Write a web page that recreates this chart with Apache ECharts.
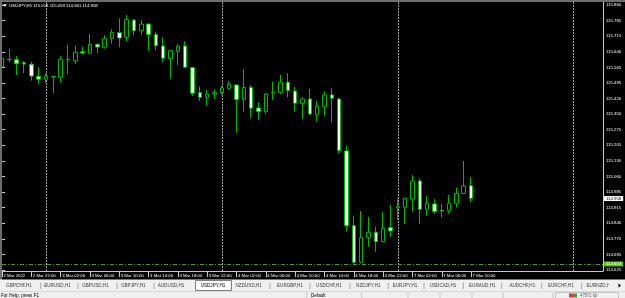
<!DOCTYPE html>
<html><head><meta charset="utf-8">
<script src="https://cdn.jsdelivr.net/npm/echarts@6/dist/echarts.min.js"></script>
<style>html,body{margin:0;padding:0;background:#000;overflow:hidden}#c{width:625px;height:298px}</style>
</head><body><div id="c"></div>
<script>
// ---------- data ----------
const symbol = 'USDJPY,H1';
const barTimes = [
 '2 Mar 18:00','2 Mar 19:00','2 Mar 20:00','2 Mar 21:00','2 Mar 22:00','2 Mar 23:00',
 '3 Mar 00:00','3 Mar 01:00','3 Mar 02:00','3 Mar 03:00','3 Mar 04:00','3 Mar 05:00','3 Mar 06:00','3 Mar 07:00',
 '3 Mar 08:00','3 Mar 09:00','3 Mar 10:00','3 Mar 11:00','3 Mar 12:00','3 Mar 13:00','3 Mar 14:00','3 Mar 15:00',
 '3 Mar 16:00','3 Mar 17:00','3 Mar 18:00','3 Mar 19:00','3 Mar 20:00','3 Mar 21:00','3 Mar 22:00','3 Mar 23:00',
 '4 Mar 00:00','4 Mar 01:00','4 Mar 02:00','4 Mar 03:00','4 Mar 04:00','4 Mar 05:00','4 Mar 06:00','4 Mar 07:00',
 '4 Mar 08:00','4 Mar 09:00','4 Mar 10:00','4 Mar 11:00','4 Mar 12:00','4 Mar 13:00','4 Mar 14:00','4 Mar 15:00',
 '4 Mar 16:00','4 Mar 17:00','4 Mar 18:00','4 Mar 19:00','4 Mar 20:00','4 Mar 21:00','4 Mar 22:00','4 Mar 23:00',
 '7 Mar 00:00','7 Mar 01:00','7 Mar 02:00','7 Mar 03:00','7 Mar 04:00','7 Mar 05:00','7 Mar 06:00','7 Mar 07:00',
 '7 Mar 08:00','7 Mar 09:00','7 Mar 10:00'
];
const futureTimes = [
 '7 Mar 11:00','7 Mar 12:00','7 Mar 13:00','7 Mar 14:00','7 Mar 15:00','7 Mar 16:00','7 Mar 17:00',
 '7 Mar 18:00','7 Mar 19:00','7 Mar 20:00','7 Mar 21:00','7 Mar 22:00','7 Mar 23:00',
 '8 Mar 00:00','8 Mar 01:00','8 Mar 02:00','8 Mar 03:00','8 Mar 04:00'
];
const firstTimeLabel = '2 Mar 2022';
const opens = [115.572,115.605,115.605,115.591,115.584,115.528,115.514,115.524,115.523,115.604,
 115.600,115.642,115.635,115.677,115.663,115.705,115.731,115.709,115.790,115.740,
 115.771,115.723,115.669,115.610,115.644,115.669,115.568,115.451,115.430,115.445,
 115.451,115.472,115.487,115.419,115.476,115.380,115.363,115.451,115.453,115.500,
 115.459,115.402,115.422,115.351,115.386,115.441,115.422,115.180,114.831,114.661,
 114.777,114.801,114.757,114.823,114.914,114.917,114.956,115.040,114.908,114.933,
 114.903,114.901,114.936,114.982,115.018];
const closes = [115.612,115.607,115.586,115.585,115.529,115.514,115.528,115.527,115.607,115.607,
 115.640,115.636,115.677,115.664,115.703,115.733,115.706,115.793,115.740,115.771,
 115.723,115.670,115.612,115.647,115.668,115.570,115.449,115.430,115.444,115.451,
 115.473,115.490,115.419,115.476,115.379,115.363,115.445,115.453,115.500,115.461,
 115.402,115.422,115.352,115.388,115.441,115.425,115.181,114.831,114.661,114.777,
 114.801,114.757,114.819,114.807,114.921,114.959,115.040,114.908,114.936,114.897,
 114.900,114.936,114.982,115.017,114.958];
const lows = [115.534,115.594,115.534,115.542,115.507,115.492,115.495,115.449,115.498,115.538,
 115.585,115.630,115.633,115.635,115.656,115.680,115.663,115.691,115.719,115.722,
 115.647,115.650,115.593,115.517,115.580,115.565,115.437,115.413,115.389,115.422,
 115.441,115.464,115.265,115.363,115.332,115.324,115.352,115.417,115.444,115.430,
 115.363,115.329,115.347,115.316,115.344,115.313,115.169,114.804,114.656,114.656,
 114.734,114.710,114.753,114.780,114.858,114.838,114.897,114.839,114.877,114.886,
 114.869,114.889,114.917,114.980,114.941];
const highs = [115.694,115.655,115.622,115.599,115.596,115.570,115.542,115.530,115.622,115.674,
 115.670,115.666,115.725,115.682,115.719,115.747,115.798,115.813,115.793,115.790,
 115.775,115.736,115.710,115.650,115.678,115.691,115.572,115.479,115.464,115.467,
 115.483,115.507,115.490,115.562,115.487,115.407,115.450,115.503,115.534,115.542,
 115.479,115.430,115.469,115.414,115.456,115.472,115.428,115.203,114.878,114.900,
 114.873,114.827,114.895,114.928,114.958,114.961,115.068,115.052,114.970,114.955,
 114.933,114.975,115.009,115.133,115.059];
const priceLabels = ['115.860','115.785','115.715','115.640','115.565','115.495','115.420','115.350','115.275',
 '115.205','115.130','115.060','114.985','114.915','114.840','114.770','114.695','114.625'];
const levelLine = 114.653;
const tabNames = ['GBPCHF,H1','EURUSD,H1','GBPUSD,H1','GBPJPY,H1','AUDUSD,H1','USDJPY,H1','NZDUSD,H1','EURGBP,H1',
 'USDCHF,H1','NZDJPY,H1','EURJPY,H1','USDCAD,H1','EURAUD,H1','AUDCHF,H1','EURCHF,H1','EURNZD,H1'];
const activeTab = 'USDJPY,H1';

// ---------- layout ----------
const tabCenters = [19,57.5,95.5,133.3,171,213,248.7,290,329,368.3,405,443,482.3,522.3,560.8,600];
const tabSeps = [40.7,78,117,154,270,310,350,388.3,424,463.3,501.7,541.7,581.7];
const statusSeps = [306.7,361.7,408,440,472,503,553];
const FONT = '"Liberation Sans",Arial,sans-serif';
const UIFONT = '"Liberation Sans",Arial,sans-serif';
const FS = 4.3;
const TICK = 0.0726394;

const n = barTimes.length;
const cats = barTimes.concat(futureTimes);
const candles = barTimes.map((t, i) => [opens[i], closes[i], lows[i], highs[i]]);
const lastO = opens[n-1], lastC = closes[n-1], lastL = lows[n-1], lastH = highs[n-1];
const showTime = (i) => i < n && i % 4 === 0;
const axisGray = '#c8c8c8';

const chart = echarts.init(document.getElementById('c'), null, {renderer: 'canvas', width: 625, height: 298});

const graphics = [
  {type:'rect', shape:{x:0,y:0,width:625,height:2}, style:{fill:'#6e6e6e'}, z:100, silent:true},
  {type:'rect', shape:{x:0,y:0,width:2,height:280}, style:{fill:'#6e6e6e'}, z:100, silent:true},
  {type:'polygon', shape:{points:[[3,4.2],[7,4.2],[5,6.8]]}, style:{fill:'#ffffff'}, z:100, silent:true},
  {type:'text', x:9, y:5.6, style:{text: symbol + ' ' + lastO.toFixed(3) + ' ' + lastH.toFixed(3) + ' ' + lastL.toFixed(3) + ' ' + lastC.toFixed(3),
     fill:'#ffffff', font: FS + 'px ' + FONT, verticalAlign:'middle'}, z:100, silent:true},
  // tab bar
  {type:'rect', shape:{x:0,y:279.5,width:625,height:19}, style:{fill:'#f0f0f0'}, z:100, silent:true},
  {type:'line', shape:{x1:0,y1:291.5,x2:625,y2:291.5}, style:{stroke:'#d8d8d8', lineWidth:1}, z:101, silent:true},
];
const activeIdx = tabNames.indexOf(activeTab);
graphics.push({type:'rect', shape:{x:195.5,y:280.5,width:36,height:10}, style:{fill:'#ffffff', stroke:'#808080', lineWidth:1}, z:101, silent:true});
tabNames.forEach((name, i) => {
  const last = i === tabNames.length - 1;
  graphics.push({type:'text', x: last ? 586.5 : tabCenters[i], y:285.6,
    style:{text:name, fill: i === activeIdx ? '#000000' : '#3a3a3a', font:'4.6px ' + UIFONT,
      align: last ? 'left' : 'center', verticalAlign:'middle'}, z:102, silent:true});
});
tabSeps.forEach(x => graphics.push({type:'line', shape:{x1:x,y1:282.5,x2:x,y2:289}, style:{stroke:'#a8a8a8', lineWidth:1}, z:102, silent:true}));
graphics.push({type:'rect', shape:{x:609,y:280,width:16,height:11}, style:{fill:'#f0f0f0'}, z:103, silent:true});
graphics.push({type:'polygon', shape:{points:[[618.5,283.5],[618.5,287.5],[621,285.5]]}, style:{fill:'#000000'}, z:104, silent:true});
// status bar
statusSeps.forEach(x => graphics.push({type:'line', shape:{x1:x,y1:292.5,x2:x,y2:298}, style:{stroke:'#c4c4c4', lineWidth:1}, z:102, silent:true}));
graphics.push({type:'text', x:1, y:295.6, style:{text:'For Help, press F1', fill:'#000000', font:'4.6px ' + UIFONT, verticalAlign:'middle'}, z:102, silent:true});
graphics.push({type:'text', x:311, y:295.6, style:{text:'Default', fill:'#000000', font:'4.6px ' + UIFONT, verticalAlign:'middle'}, z:102, silent:true});
graphics.push({type:'rect', shape:{x:555.5,y:292.5,width:63,height:6}, style:{fill:'#f0f0f0', stroke:'#c4c4c4', lineWidth:1}, z:102, silent:true});
graphics.push({type:'rect', shape:{x:569,y:293.5,width:4,height:4}, style:{fill:'#d04040'}, z:103, silent:true});
graphics.push({type:'rect', shape:{x:573,y:293.5,width:4,height:4}, style:{fill:'#40a040'}, z:103, silent:true});
graphics.push({type:'text', x:580, y:295.6, style:{text:'478/1 kb', fill:'#666666', font:'4.6px ' + UIFONT, verticalAlign:'middle'}, z:103, silent:true});

const option = {
  backgroundColor: '#000000',
  animation: false,
  grid: [
    {left: 2, right: 22, top: 2, bottom: 27, outerBoundsMode: 'none', containLabel: false, show: false},
    {left: 2, right: 22, top: -10.55, bottom: 12.41, outerBoundsMode: 'none', containLabel: false, show: false}
  ],
  xAxis: [
    {type: 'category', gridIndex: 0, data: cats, boundaryGap: false,
     axisLine: {show: true, lineStyle: {color: axisGray, width: 1}},
     axisTick: {show: true, interval: (i) => showTime(i), length: 6, lineStyle: {color: axisGray}},
     axisLabel: {show: true, interval: (i) => showTime(i), formatter: (v, i) => i === 0 ? firstTimeLabel : v,
       color: '#ffffff', fontSize: FS, fontFamily: FONT, align: 'left', margin: 2.5, padding: [0,0,0,1.5]},
     splitLine: {show: true, interval: (i, v) => /00:00$/.test(v), lineStyle: {color: '#a0a0a0', type: [2, 1], width: 1}}},
    {type: 'value', gridIndex: 1, show: false, min: 0, max: 1}
  ],
  yAxis: [
    {type: 'value', gridIndex: 0, position: 'right', min: 114.620313, max: 115.873977, scale: true,
     axisLine: {show: true, lineStyle: {color: axisGray, width: 1}},
     axisTick: {show: false}, axisLabel: {show: false}, splitLine: {show: false}},
    {type: 'value', gridIndex: 1, position: 'right', min: 1577 * TICK, max: 1596 * TICK, interval: TICK, scale: true,
     axisLine: {show: false}, splitLine: {show: false},
     axisTick: {show: true, length: 3, lineStyle: {color: axisGray}},
     axisLabel: {show: true, color: '#ffffff', fontSize: FS, fontFamily: FONT, margin: 3,
       formatter: (v) => { let best = '', d = 1e9; priceLabels.forEach(s => { const dd = Math.abs(parseFloat(s) - v); if (dd < d) { d = dd; best = s; } }); return d < 0.01 ? best : ''; }}}
  ],
  series: [{
    type: 'candlestick', xAxisIndex: 0, yAxisIndex: 0, data: candles, barWidth: 4,
    itemStyle: {color: '#000000', color0: '#ffffff', borderColor: '#00b800', borderColor0: '#00b800', borderWidth: 1},
    emphasis: {disabled: true}, silent: true,
    markLine: {
      symbol: 'none', silent: true, animation: false, precision: 3,
      data: [
        {yAxis: levelLine, lineStyle: {color: '#4e9a22', type: [4, 2, 1, 2], width: 1},
         label: {show: true, position: 'end', distance: 1, formatter: levelLine.toFixed(3), color: '#ffffff',
           backgroundColor: '#5cc414', padding: [1, 2, 0, 2], fontSize: FS, fontFamily: FONT}},
        {yAxis: lastC, lineStyle: {color: 'rgba(0,0,0,0)', width: 0},
         label: {show: true, position: 'end', distance: 1, formatter: lastC.toFixed(3), color: '#000000',
           backgroundColor: '#ffffff', padding: [1, 2, 0, 2], fontSize: FS, fontFamily: FONT}}
      ]
    }
  }],
  graphic: {elements: graphics}
};
chart.setOption(option);
</script></body></html>
